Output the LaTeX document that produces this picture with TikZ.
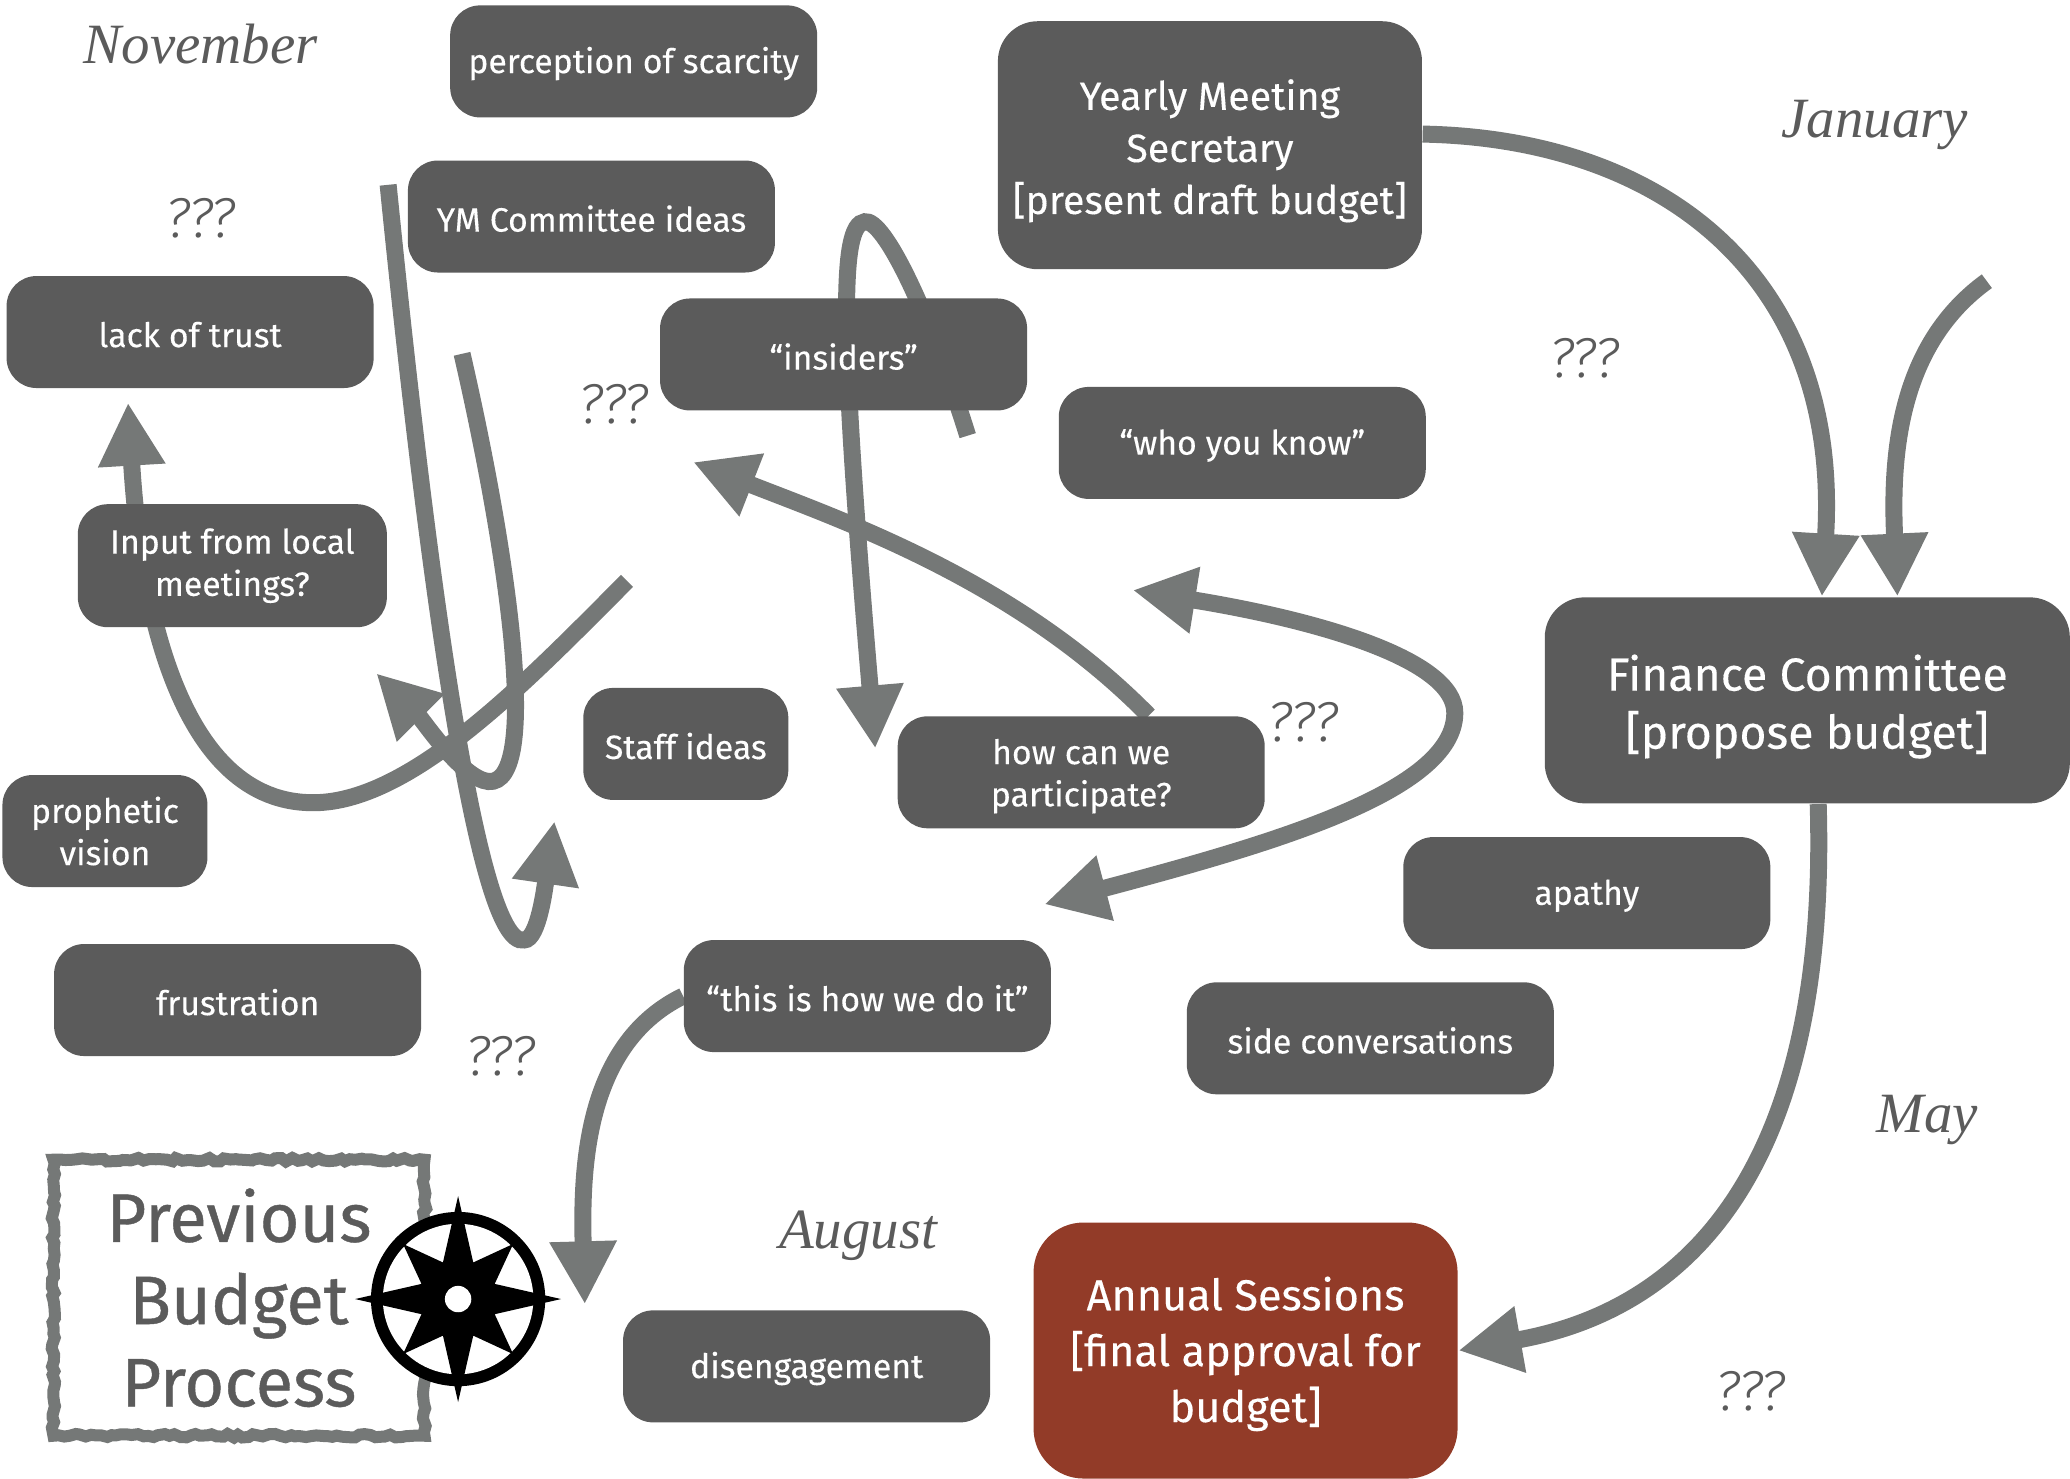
\documentclass[tikz,border=0pt]{standalone}
\usepackage{fontspec}
\usepackage{xcolor}
\usepackage{tikz}
\usetikzlibrary{arrows.meta, backgrounds, decorations.pathmorphing}
\setmainfont{Fira Sans}
\newfontfamily\cardfont{Fira Sans}[FakeBold=0.25]
\newfontfamily\titlefont{Fira Sans}[FakeBold=0.6]
\newfontfamily\monthfont{Liberation Serif}
\newfontfamily\queryfont{Fira Sans Light}

\definecolor{boxgray}{HTML}{5B5B5B}
\definecolor{flowgray}{HTML}{757877}
\definecolor{rust}{HTML}{923B28}

\tikzset{
  lift/.style={execute at begin node={\rule{0pt}{#1}}},
  card/.style={fill=boxgray, text=white, rounded corners=3mm, inner sep=0pt, align=center,
    minimum width=36.7mm, minimum height=11.2mm, font=\cardfont\fontsize{9.6pt}{12pt}\selectfont,
    lift=8.7pt},
  bigcard/.style={card, rounded corners=4mm, font=\cardfont\fontsize{11.2pt}{14.8pt}\selectfont},
  flow/.style={draw=flowgray, line width=1.7mm, -{Triangle[length=6.3mm, width=6.3mm]}},
  month/.style={text=boxgray, font=\monthfont\itshape\fontsize{16.2pt}{20pt}\selectfont},
  query/.style={text=boxgray, font=\queryfont\itshape\fontsize{16pt}{18pt}\selectfont}
}

\begin{document}
\begin{tikzpicture}[x=0.132mm, y=-0.132mm]
\useasboundingbox (0, 0) rectangle (1568, 1120);
\pgfmathsetseed{7}

\node[card] (scarcity) at (480, 46.5) {perception of scarcity};
\node[card] (ideas) at (448, 164) {YM Committee ideas};
\node[card] (trust) at (144, 251.5) {lack of trust};
\node[card] (insiders) at (639, 268.5) {“insiders”};
\node[card] (know) at (941, 335.5) {“who you know”};
\node[card, minimum width=30.9mm, minimum height=12.3mm] (input) at (176, 428.5) {Input from local\\meetings?};
\node[card, minimum width=20.5mm] (staff) at (519.5, 563.5) {Staff ideas};
\node[card, lift=21.4pt] (how) at (819, 585) {how can we\\participate?};
\node[card, minimum width=20.5mm] (vision) at (79.5, 629.5) {prophetic\\vision};
\node[card] (frustration) at (180, 757.5) {frustration};
\node[card] (thisway) at (657, 754.5) {“this is how we do it”};
\node[card] (apathy) at (1202, 676.5) {apathy};
\node[card] (side) at (1038, 786.5) {side conversations};
\node[card] (disengage) at (611, 1035) {disengagement};

\node[bigcard, minimum width=42.4mm, minimum height=24.8mm, lift=41.5pt] (secretary) at (916.5, 110) {Yearly Meeting\\Secretary\\{[present draft budget]}};
\node[bigcard, minimum width=52.5mm, minimum height=20.6mm, lift=30.3pt, font=\cardfont\fontsize{13.2pt}{16.5pt}\selectfont] (finance) at (1369, 530.5) {Finance Committee\\{[propose budget]}};
\node[bigcard, fill=rust, minimum width=42.4mm, minimum height=25.6mm, rounded corners=5mm, lift=43.3pt, font=\cardfont\fontsize{12.3pt}{15.9pt}\selectfont] (sessions) at (943.5, 1023) {Annual Sessions\\{[final approval for}\\budget]};

\node[draw=flowgray, line width=1.2mm, decorate, decoration={random steps, segment length=1.5pt, amplitude=.5pt}, minimum width=37.1mm, minimum height=27.6mm, inner sep=0pt, align=center, text=boxgray, font=\titlefont\fontsize{19.5pt}{23.4pt}\selectfont] (previous) at (181, 983) {Previous\\Budget\\Process};

\node[month] (november) at (152, 33) {November};
\node[month] (january) at (1420, 95) {January};
\node[month] (may) at (1460, 848) {May};
\node[month] (august) at (650, 936) {August};

\node[query] (queryA) at (152, 165) {???};
\node[query] (queryB) at (465, 306) {???};
\node[query] (queryC) at (1200, 271) {???};
\node[query] (queryD) at (987, 547) {???};
\node[query] (queryE) at (379, 800) {???};
\node[query] (queryF) at (1326, 1054) {???};

% compass
\fill[black] (347, 984) circle (66);
\fill[white] (347, 984) circle (57);
\fill[black, shift={(347, 984)}] (0:78) -- (22.5:30) -- (45:59) -- (67.5:30) -- (90:78) -- (112.5:30) -- (135:59) -- (157.5:30)
  -- (180:78) -- (202.5:30) -- (225:59) -- (247.5:30) -- (270:78) -- (292.5:30) -- (315:59) -- (337.5:30) -- cycle;
\fill[white] (347, 984) circle (10);

\coordinate (janstart) at (1505, 213);
\coordinate (augend) at (443, 988);
\coordinate (loopup) at (858, 447);
\coordinate (loopdown) at (791, 685);
\coordinate (midend) at (525, 350);
\coordinate (tangletail) at (733, 330);
\coordinate (tanglehead) at (663, 567);
\coordinate (inputtail) at (475, 440);
\coordinate (inputhead) at (97, 305);
\coordinate (longtail) at (294, 140);
\coordinate (longhead) at (420, 622);
\coordinate (shorttail) at (350, 268);
\coordinate (shorthead) at (285, 510);

\begin{scope}[on background layer]
\draw[flow] (secretary.3) .. controls (1260, 105) and (1395, 210) .. (finance.82);
\draw[flow] (janstart) .. controls (1440, 260) and (1432, 340) .. (finance.49);
\draw[flow] (finance.-84) .. controls (1385, 870) and (1290, 990) .. (sessions.east);
\draw[flow] (thisway.west) .. controls (445, 790) and (440, 880) .. (augend);
\draw[flow, {Triangle[length=6.3mm, width=6.3mm]}-{Triangle[length=6.3mm, width=6.3mm]}] (loopup) .. controls (1000, 470) and (1102, 500) .. (1102, 540) .. controls (1102, 600) and (960, 640) .. (loopdown);
\draw[flow] (how.40) .. controls (770, 440) and (640, 395) .. (midend);
\draw[flow] (tangletail) .. controls (705, 240) and (670, 165) .. (655, 168) .. controls (636, 170) and (636, 250) .. (tanglehead);
\draw[flow] (inputtail) .. controls (400, 515) and (310, 610) .. (235, 608) .. controls (130, 606) and (105, 440) .. (inputhead);
\draw[flow] (longtail) .. controls (320, 400) and (360, 720) .. (397, 712) .. controls (408, 712) and (413, 670) .. (longhead);
\draw[flow] (shorttail) .. controls (385, 420) and (410, 595) .. (370, 592) .. controls (350, 590) and (320, 545) .. (shorthead);
\end{scope}

\end{tikzpicture}
\end{document}
